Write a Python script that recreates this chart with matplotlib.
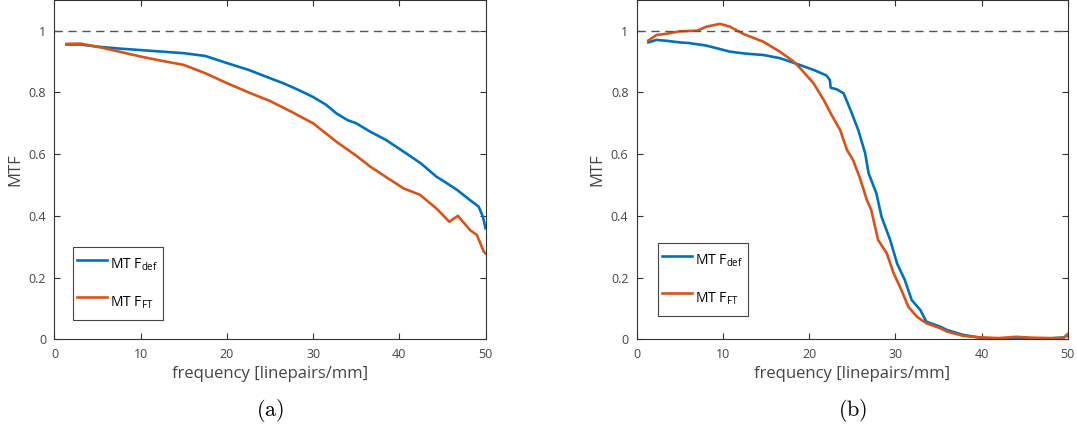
import numpy as np
import matplotlib.pyplot as plt
from matplotlib.ticker import FuncFormatter

# (a) values
freq_a_def = [1.4, 3, 5, 7.5, 10, 12.5, 15, 17.5, 20, 22.5, 25, 26.5, 27.5, 28.9, 30,
              31.5, 32.7, 34, 35, 36.6, 37.5, 38.5, 40.5, 42.5, 44.3, 45, 46.7, 48.2,
              49.2, 49.7, 50]
mtf_a_def = [0.955, 0.955, 0.948, 0.942, 0.937, 0.932, 0.927, 0.918, 0.895, 0.873,
             0.846, 0.83, 0.818, 0.80, 0.785, 0.76, 0.732, 0.71, 0.70, 0.673, 0.66,
             0.645, 0.608, 0.57, 0.527, 0.515, 0.484, 0.451, 0.43, 0.397, 0.36]

freq_a_ft = [1.4, 3, 5, 7.5, 10, 12.5, 15, 17.5, 20, 22.5, 25, 27.5, 28.9, 30, 32.7,
             35, 36.6, 38.5, 40.5, 42.4, 44.3, 45.8, 46.8, 48.2, 49.0, 49.8, 50]
mtf_a_ft = [0.957, 0.958, 0.948, 0.932, 0.916, 0.902, 0.889, 0.862, 0.83, 0.80,
            0.772, 0.737, 0.716, 0.70, 0.64, 0.595, 0.56, 0.525, 0.489, 0.468,
            0.424, 0.381, 0.40, 0.354, 0.338, 0.284, 0.278]

# (b) values
freq_b_def = [1.35, 2.3, 3.5, 5.0, 6.0, 7.0, 8.0, 9.0, 10.8, 12.5, 14.7, 16.6, 18.5,
              20.5, 22.0, 22.4, 22.5, 23.2, 24.0, 24.8, 25.7, 26.5, 26.9, 27.8, 28.4,
              29.4, 30.2, 31.1, 31.9, 32.9, 33.6, 35.2, 36.0, 37.9, 39.9, 42, 44, 46,
              48, 49.5, 50]
mtf_b_def = [0.962, 0.970, 0.967, 0.962, 0.960, 0.956, 0.952, 0.945, 0.932, 0.926,
             0.921, 0.911, 0.893, 0.873, 0.855, 0.84, 0.815, 0.81, 0.797, 0.743,
             0.678, 0.603, 0.538, 0.473, 0.397, 0.322, 0.246, 0.192, 0.127, 0.095,
             0.057, 0.041, 0.030, 0.014, 0.005, 0.002, 0.004, -0.002, 0.003, 0.006,
             0.012]

freq_b_ft = [1.35, 2.3, 3.5, 5.0, 7.0, 8.1, 9.66, 10.8, 12.4, 14.7, 16.6, 18.2, 18.9,
             20.5, 21.7, 22.6, 23.6, 24.4, 25.1, 25.9, 26.7, 27.2, 28.0, 29.0, 29.8,
             30.7, 31.5, 32.5, 33.6, 35.2, 36.0, 37.9, 39.9, 42, 44, 46, 48, 49.5, 50]
mtf_b_ft = [0.968, 0.986, 0.99, 0.998, 1.0, 1.013, 1.022, 1.013, 0.989, 0.964, 0.932,
            0.90, 0.88, 0.83, 0.775, 0.727, 0.678, 0.613, 0.581, 0.522, 0.451, 0.419,
            0.322, 0.279, 0.214, 0.16, 0.106, 0.073, 0.052, 0.036, 0.025, 0.011,
            0.006, 0.004, 0.008, 0.005, 0.004, 0.004, 0.017]

BLUE = "#0072BD"
RED = "#D95319"
AXC = "#333333"

plt.rcParams['font.family'] = ['Open Sans', 'DejaVu Sans']
plt.rcParams['mathtext.default'] = 'regular'

fig = plt.figure(figsize=(10.77, 4.34), dpi=100)

panels = [
    (0.0506, freq_a_def, mtf_a_def, freq_a_ft, mtf_a_ft, (0.043, 0.057), "(a)", 0.251),
    (0.5912, freq_b_def, mtf_b_def, freq_b_ft, mtf_b_ft, (0.049, 0.069), "(b)", 0.792),
]

for left, fd, md, ff, mf, leg_pos, tag, tag_x in panels:
    ax = fig.add_axes([left, 0.2182, 0.4002, 0.7823])
    ax.plot(fd, md, color=BLUE, lw=1.9, label=r"MT F$_{def}$")
    ax.plot(ff, mf, color=RED, lw=1.9, label=r"MT F$_{FT}$")
    ax.axhline(1.0, color="#555555", lw=1.0, ls=(0, (6, 4)))
    ax.set_xlim(0, 50)
    ax.set_ylim(0, 1.1)
    ax.set_xticks([0, 10, 20, 30, 40, 50])
    ax.set_yticks([0, 0.2, 0.4, 0.6, 0.8, 1.0])
    ax.yaxis.set_major_formatter(FuncFormatter(lambda v, p: f"{v:g}"))
    ax.tick_params(direction="in", length=4, width=0.8, top=True, right=True,
                   colors=AXC, labelsize=9, labelcolor="#444444", pad=6)
    for s in ax.spines.values():
        s.set_color(AXC)
        s.set_linewidth(0.8)
    ax.set_xlabel("frequency [linepairs/mm]", fontsize=12, color="#444444", labelpad=4)
    ax.set_ylabel("MTF", fontsize=12, color="#444444", labelpad=4)
    leg = ax.legend(loc="lower left", bbox_to_anchor=leg_pos, borderaxespad=0,
                    fancybox=False, framealpha=1, edgecolor="#444444",
                    handlelength=2.15, handleheight=2.6, handletextpad=0.2,
                    labelspacing=0.75, borderpad=0.32, fontsize=10)
    leg.get_frame().set_linewidth(0.8)
    fig.text(tag_x, 0.055, r"$\mathrm{" + tag + "}$", ha="center", va="center",
             fontsize=16, math_fontfamily="cm")

plt.savefig("out.png", dpi=100)
